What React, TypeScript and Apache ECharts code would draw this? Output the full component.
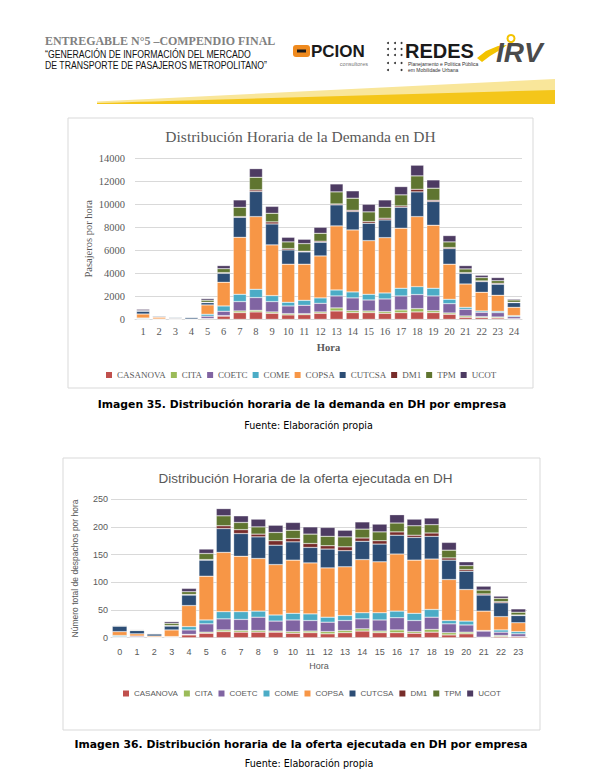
import React, { useEffect, useRef } from "react";
import * as echarts from "echarts";

// ---------- DATA ----------
const companies = ["CASANOVA", "CITA", "COETC", "COME", "COPSA", "CUTCSA", "DM1", "TPM", "UCOT"];
const companyColors = ["#c0504d", "#9bbb59", "#8064a2", "#4bacc6", "#f79646", "#2c4d75", "#772c2a", "#5f7530", "#4d3b62"];

// Chart 1: demand, hours 1..24
const hoursDemand = ["1","2","3","4","5","6","7","8","9","10","11","12","13","14","15","16","17","18","19","20","21","22","23","24"];
const dCASANOVA = [20, 10, 10, 10, 50, 280, 580, 640, 520, 380, 400, 520, 725, 580, 580, 520, 580, 640, 580, 435, 175, 145, 115, 30];
const dCITA = [0, 0, 0, 0, 20, 40, 145, 140, 120, 110, 90, 120, 265, 170, 145, 150, 230, 290, 170, 115, 115, 85, 85, 20];
const dCOETC = [30, 10, 10, 20, 200, 380, 815, 1110, 900, 670, 730, 750, 1040, 1110, 955, 1100, 1220, 1220, 1280, 810, 580, 380, 380, 180];
const dCOME = [60, 10, 10, 0, 170, 460, 635, 720, 520, 320, 430, 470, 520, 520, 495, 520, 670, 690, 670, 380, 170, 115, 115, 90];
const dCOPSA = [350, 150, 50, 0, 810, 2060, 4955, 6320, 4410, 3310, 3140, 3650, 5570, 5390, 4665, 4810, 5220, 6090, 5480, 3050, 2030, 1625, 1395, 720];
const dCUTCSA = [250, 100, 100, 150, 200, 780, 1740, 2180, 1820, 1240, 1070, 1190, 1830, 1600, 1510, 1540, 1820, 2150, 2060, 1360, 930, 930, 960, 410];
const dDM1 = [10, 0, 0, 0, 30, 60, 60, 140, 180, 120, 60, 90, 80, 110, 150, 150, 120, 230, 110, 90, 60, 60, 80, 30];
const dTPM = [30, 0, 0, 0, 180, 340, 810, 1100, 750, 580, 660, 690, 1050, 1050, 840, 950, 960, 1160, 1050, 490, 320, 290, 230, 200];
const dUCOT = [120, 20, 30, 20, 140, 270, 640, 750, 600, 400, 380, 520, 690, 640, 660, 640, 720, 930, 720, 550, 290, 200, 270, 90];

// Chart 2: executed supply, hours 0..23
const hoursOffer = ["0","1","2","3","4","5","6","7","8","9","10","11","12","13","14","15","16","17","18","19","20","21","22","23"];
const oCASANOVA = [1, 1, 0, 0, 5, 8, 11, 10, 10, 10, 8, 9, 7, 9, 12, 9, 9, 8, 10, 5, 7, 1, 2, 2];
const oCITA = [0, 0, 0, 0, 1, 2, 3, 3, 3, 2, 3, 3, 4, 4, 4, 3, 5, 3, 5, 4, 3, 0, 2, 0];
const oCOETC = [1, 2, 1, 1, 8, 15, 20, 20, 24, 18, 21, 19, 17, 18, 18, 20, 22, 20, 22, 16, 13, 11, 6, 5];
const oCOME = [2, 0, 0, 1, 6, 7, 13, 14, 11, 11, 12, 12, 9, 9, 11, 13, 12, 13, 14, 6, 7, 1, 4, 4];
const oCOPSA = [7, 4, 2, 12, 38, 79, 107, 100, 95, 91, 96, 92, 89, 88, 96, 92, 103, 96, 91, 74, 57, 35, 24, 16];
const oCUTCSA = [10, 6, 4, 7, 19, 29, 43, 41, 39, 35, 33, 28, 34, 29, 33, 32, 34, 41, 41, 35, 33, 29, 25, 13];
const oDM1 = [0, 0, 0, 1, 1, 1, 5, 7, 5, 8, 6, 7, 6, 7, 6, 6, 6, 4, 6, 4, 3, 2, 2, 1];
const oTPM = [1, 1, 0, 4, 5, 11, 18, 13, 13, 15, 15, 17, 17, 18, 16, 16, 16, 17, 15, 14, 7, 7, 6, 5];
const oUCOT = [1, 1, 1, 3, 6, 8, 13, 12, 14, 13, 14, 13, 16, 12, 13, 14, 15, 12, 12, 14, 7, 7, 4, 6];

const demandTicks = { min: 0, max: 14000, interval: 2000 };
const offerTicks = { min: 0, max: 250, interval: 50 };

const demandSeries = [dCASANOVA, dCITA, dCOETC, dCOME, dCOPSA, dCUTCSA, dDM1, dTPM, dUCOT];
const offerSeries = [oCASANOVA, oCITA, oCOETC, oCOME, oCOPSA, oCUTCSA, oDM1, oTPM, oUCOT];

const headerLine1 = "ENTREGABLE N°5 –COMPENDIO FINAL";
const headerLine2 = "“GENERACIÓN DE INFORMACIÓN DEL MERCADO";
const headerLine3 = "DE TRANSPORTE DE PASAJEROS METROPOLITANO”";
const title1 = "Distribución Horaria de la Demanda en DH";
const title2 = "Distribución Horaria de la oferta ejecutada en DH";
const caption1 = "Imagen 35. Distribución horaria de la demanda en DH por empresa";
const caption2 = "Imagen 36. Distribución horaria de la oferta ejecutada en DH por empresa";
const source = "Fuente: Elaboración propia";

const GREY = "#595959";
const SERIF = '"Liberation Serif"';
const SANS = '"Liberation Sans"';
const SEGMENT_BORDER = "rgba(255,255,255,0.55)";

function txt(text: string, x: number, y: number, font: string, fill: string, align = "left", scaleX = 1) {
  return {
    type: "text",
    x,
    y,
    scaleX,
    silent: true,
    style: { text, x: 0, y: 0, font, fill, textAlign: align, align, textVerticalAlign: "middle", verticalAlign: "middle" },
  };
}

export default function App() {
  const ref = useRef<HTMLDivElement>(null);
  useEffect(() => {
    if (!ref.current) return;
    const chart = echarts.init(ref.current, null, { renderer: "svg" });

    const series: any[] = [];
    companies.forEach((name, i) => {
      series.push({
        name,
        type: "bar",
        stack: "demand",
        xAxisIndex: 0,
        yAxisIndex: 0,
        data: demandSeries[i],
        barCategoryGap: "19%",
        itemStyle: { color: companyColors[i], borderColor: SEGMENT_BORDER, borderWidth: 0.5 },
      });
    });
    companies.forEach((name, i) => {
      series.push({
        name,
        type: "bar",
        stack: "offer",
        xAxisIndex: 1,
        yAxisIndex: 1,
        data: offerSeries[i],
        barCategoryGap: "15%",
        itemStyle: { color: companyColors[i], borderColor: SEGMENT_BORDER, borderWidth: 0.5 },
      });
    });

    const dots: any[] = [];
    [[388, 43], [395, 43], [401.5, 43], [388, 49], [395, 49], [401.5, 49], [388, 55], [395, 55], [401.5, 55], [388, 63], [395, 63], [401.5, 63], [388, 70], [401.5, 70]].forEach(
      ([cx, cy]) => dots.push({ type: "circle", shape: { cx, cy, r: 1 }, style: { fill: "#333" }, silent: true })
    );

    const option: any = {
      animation: false,
      backgroundColor: "#ffffff",
      color: companyColors,
      grid: [
        { left: 135, right: 85, top: 158.3, bottom: 464.7 },
        { left: 111, right: 80, top: 499.2, bottom: 146.3 },
      ],
      legend: [
        {
          data: companies,
          left: 106,
          top: 370.5,
          padding: 0,
          itemWidth: 6,
          itemHeight: 6,
          itemGap: 5,
          icon: "rect",
          selectedMode: false,
          itemStyle: { borderWidth: 0 },
          textStyle: { fontFamily: SERIF, fontSize: 9, color: GREY },
        },
        {
          data: companies,
          left: 123,
          top: 689.5,
          padding: 0,
          itemWidth: 6,
          itemHeight: 6,
          itemGap: 6,
          icon: "rect",
          selectedMode: false,
          itemStyle: { borderWidth: 0 },
          textStyle: { fontFamily: SANS, fontSize: 8, color: GREY },
        },
      ],
      xAxis: [
        {
          type: "category",
          gridIndex: 0,
          data: hoursDemand,
          name: "Hora",
          nameLocation: "middle",
          nameGap: 23,
          nameMoveOverlap: false,
          nameTextStyle: { fontFamily: SERIF, fontSize: 10.5, fontWeight: "bold", color: GREY },
          axisLine: { lineStyle: { color: "#d9d9d9" } },
          axisTick: { show: false },
          axisLabel: { margin: 7, fontFamily: SERIF, fontSize: 10.5, color: GREY, interval: 0 },
        },
        {
          type: "category",
          gridIndex: 1,
          data: hoursOffer,
          name: "Hora",
          nameLocation: "middle",
          nameGap: 24,
          nameMoveOverlap: false,
          nameTextStyle: { fontFamily: SANS, fontSize: 9, color: GREY },
          axisLine: { lineStyle: { color: "#d9d9d9" } },
          axisTick: { show: false },
          axisLabel: { margin: 10, fontFamily: SANS, fontSize: 9, color: GREY, interval: 0 },
        },
      ],
      yAxis: [
        {
          type: "value",
          gridIndex: 0,
          ...demandTicks,
          name: "Pasajeros por hora",
          nameLocation: "middle",
          nameGap: 41,
          nameMoveOverlap: false,
          nameTextStyle: { fontFamily: SERIF, fontSize: 10.5, color: GREY },
          axisLine: { show: false },
          axisTick: { show: false },
          splitLine: { lineStyle: { color: "#d9d9d9" } },
          axisLabel: { margin: 10, fontFamily: SERIF, fontSize: 10.5, color: GREY, formatter: (v: number) => String(v) },
        },
        {
          type: "value",
          gridIndex: 1,
          ...offerTicks,
          name: "Número total de despachos por hora",
          nameLocation: "middle",
          nameGap: 32,
          nameMoveOverlap: false,
          nameTextStyle: { fontFamily: SANS, fontSize: 8.5, color: GREY },
          axisLine: { show: false },
          axisTick: { show: false },
          splitLine: { lineStyle: { color: "#d9d9d9" } },
          axisLabel: { margin: 3, fontFamily: SANS, fontSize: 9, color: GREY },
        },
      ],
      series,
      graphic: [
        // header texts
        txt(headerLine1, 45, 41, `bold 13px ${SERIF}`, "#808080", "left", 0.92),
        txt(headerLine2, 45, 55, `10px ${SANS}`, "#111", "left", 0.87),
        txt(headerLine3, 45, 65.5, `10px ${SANS}`, "#111", "left", 0.87),
        // OPCION logo
        { type: "rect", shape: { x: 293, y: 45, width: 17, height: 12, r: 3 }, style: { fill: "#ef8a1e" }, silent: true },
        { type: "rect", shape: { x: 297, y: 49.5, width: 9, height: 3 }, style: { fill: "#1a1a1a" }, silent: true },
        txt("PCION", 311, 51.5, `bold 17px ${SANS}`, "#1a1a1a", "left", 1),
        txt("consultores", 368, 64, `5.5px ${SANS}`, "#777", "right", 1),
        // REDES logo
        ...dots,
        txt("REDES", 405, 50.5, `bold 20px ${SANS}`, "#1a1a1a", "left", 1),
        txt("Planejamento e Política Pública", 408, 63.5, `5px ${SANS}`, "#333", "left", 1),
        txt("em Mobilidade Urbana", 408, 70, `5px ${SANS}`, "#333", "left", 1),
        // IRV logo
        { type: "polygon", shape: { points: [[477, 58], [486, 51], [498, 46], [507, 45], [500, 50], [490, 56], [482, 62]] }, style: { fill: "#f3c300" }, silent: true },
        { type: "circle", shape: { cx: 511, cy: 38.5, r: 3.5 }, style: { fill: "none", stroke: "#f3c300", lineWidth: 2 }, silent: true },
        txt("IRV", 496, 52.5, `italic bold 28px ${SANS}`, "#4b4b4b", "left", 1),
        // yellow band
        { type: "polygon", shape: { points: [[97, 101.5], [555, 79], [555, 92], [97, 103]] }, style: { fill: "#f9e69a" }, silent: true },
        { type: "polygon", shape: { points: [[97, 103], [555, 90], [555, 104], [97, 104]] }, style: { fill: "#f4c61a" }, silent: true },
        // chart frames
        { type: "rect", shape: { x: 68, y: 118, width: 465, height: 270 }, style: { fill: "none", stroke: "#d9d9d9", lineWidth: 1 }, silent: true },
        { type: "rect", shape: { x: 63, y: 458, width: 477, height: 272 }, style: { fill: "none", stroke: "#d9d9d9", lineWidth: 1 }, silent: true },
        // chart titles
        txt(title1, 300.5, 136, `15.5px ${SERIF}`, GREY, "center", 1),
        txt(title2, 305.5, 478.5, `13.5px ${SANS}`, GREY, "center", 1),
        // captions
        txt(caption1, 302, 404, `bold 10.8px "DejaVu Sans"`, "#000", "center", 1),
        txt(source, 308.5, 425, `9.6px "DejaVu Sans"`, "#000", "center", 1),
        txt(caption2, 301, 744.3, `bold 10.8px "DejaVu Sans"`, "#000", "center", 1),
        txt(source, 309, 763.3, `9.6px "DejaVu Sans"`, "#000", "center", 1),
      ],
    };
    chart.setOption(option);
    return () => chart.dispose();
  }, []);

  return <div ref={ref} style={{ position: "absolute", left: 0, top: 0, width: 607, height: 784, background: "#fff" }} />;
}
